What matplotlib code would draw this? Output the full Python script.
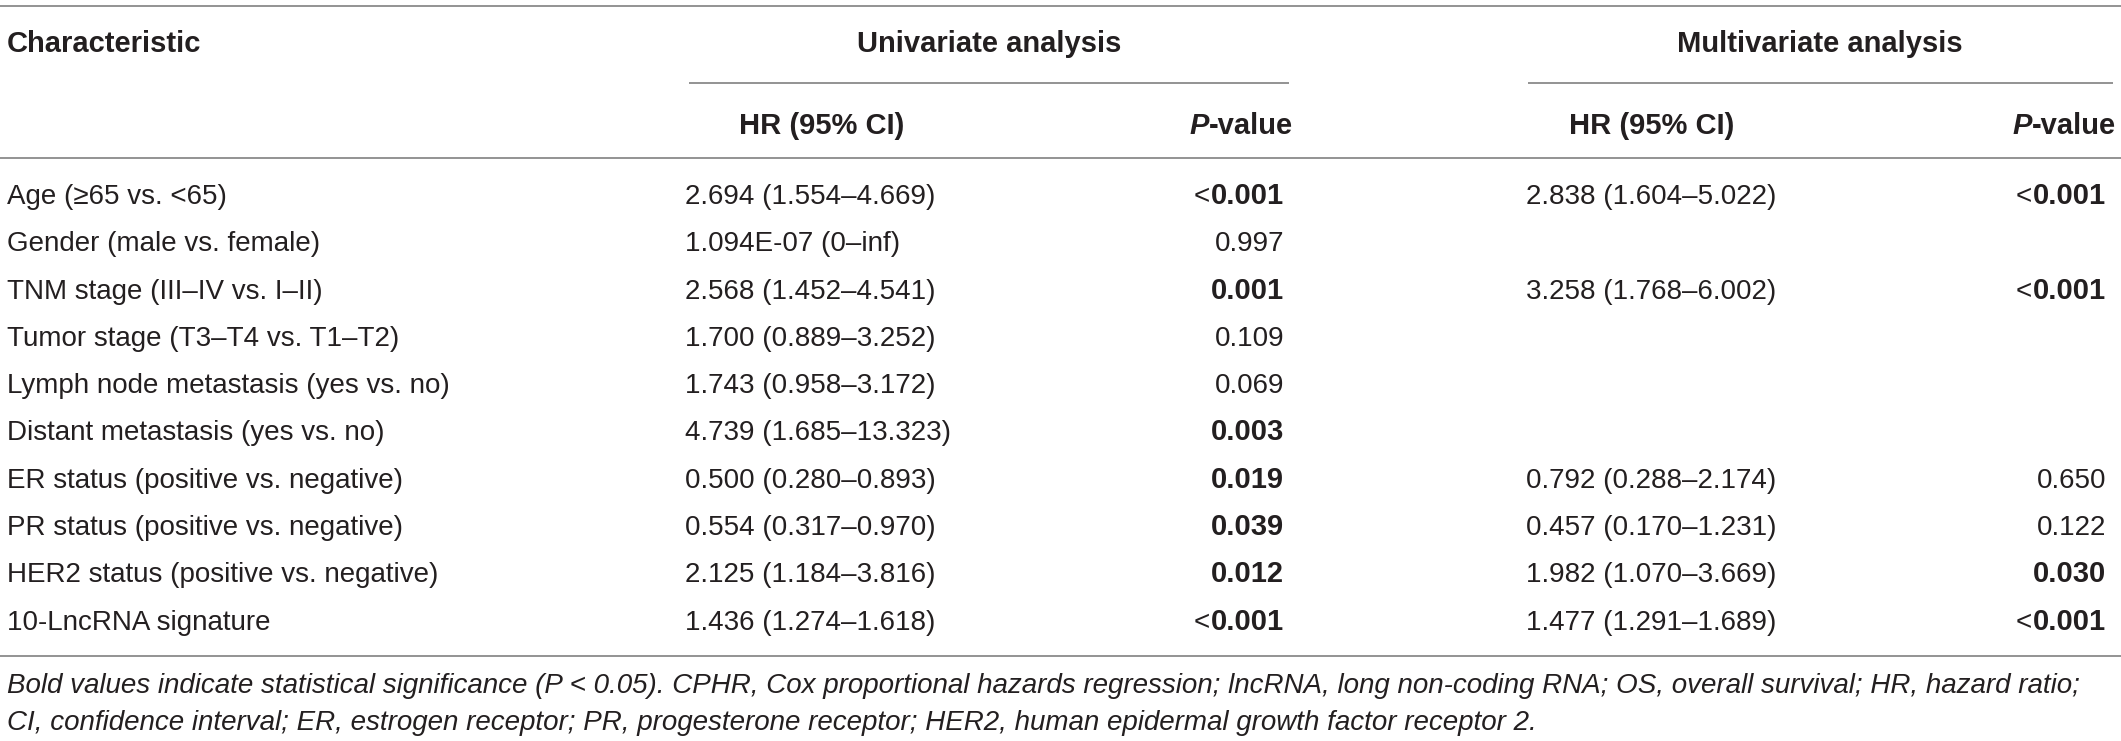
import matplotlib
matplotlib.use("Agg")
import matplotlib.pyplot as plt

# Datos de la tabla
characteristics = [
    "Age (\u226565 vs. <65)",
    "Gender (male vs. female)",
    "TNM stage (III\u2013IV vs. I\u2013II)",
    "Tumor stage (T3\u2013T4 vs. T1\u2013T2)",
    "Lymph node metastasis (yes vs. no)",
    "Distant metastasis (yes vs. no)",
    "ER status (positive vs. negative)",
    "PR status (positive vs. negative)",
    "HER2 status (positive vs. negative)",
    "10-LncRNA signature",
]
uni_hr = [
    "2.694 (1.554\u20134.669)",
    "1.094E-07 (0\u2013inf)",
    "2.568 (1.452\u20134.541)",
    "1.700 (0.889\u20133.252)",
    "1.743 (0.958\u20133.172)",
    "4.739 (1.685\u201313.323)",
    "0.500 (0.280\u20130.893)",
    "0.554 (0.317\u20130.970)",
    "2.125 (1.184\u20133.816)",
    "1.436 (1.274\u20131.618)",
]
uni_p = ["<0.001", "0.997", "0.001", "0.109", "0.069", "0.003", "0.019", "0.039", "0.012", "<0.001"]
multi_hr = [
    "2.838 (1.604\u20135.022)",
    "",
    "3.258 (1.768\u20136.002)",
    "",
    "",
    "",
    "0.792 (0.288\u20132.174)",
    "0.457 (0.170\u20131.231)",
    "1.982 (1.070\u20133.669)",
    "1.477 (1.291\u20131.689)",
]
multi_p = ["<0.001", "", "<0.001", "", "", "", "0.650", "0.122", "0.030", "<0.001"]
footnote = [
    "Bold values indicate statistical significance (P < 0.05). CPHR, Cox proportional hazards regression; "
    "lncRNA, long non-coding RNA; OS, overall survival; HR, hazard ratio;",
    "CI, confidence interval; ER, estrogen receptor; PR, progesterone receptor; "
    "HER2, human epidermal growth factor receptor 2.",
]

W, H = 2121, 741
txt = "#231f20"
linec = "#8a8a8a"
fs = 20          # texto normal
fsb = 21         # encabezados y valores en negrita
plt.rcParams["font.family"] = ["Liberation Sans", "DejaVu Sans"]

fig = plt.figure(figsize=(W / 100, H / 100), dpi=100)
ax = fig.add_axes([0, 0, 1, 1])
ax.set_xlim(0, W)
ax.set_ylim(H, 0)
ax.axis("off")
renderer = fig.canvas.get_renderer()


def is_sig(p):
    if p.startswith("<"):
        return True
    return p != "" and float(p) < 0.05


def hline(y, x0, x1):
    ax.plot([x0, x1], [y, y], color=linec, lw=1.3, solid_capstyle="butt")


def width_px(t):
    return t.get_window_extent(renderer).width


def pvalue(x_right, y, p):
    # el signo "<" va sin negrita, el número en negrita
    if p == "":
        return
    sig = is_sig(p)
    num = p.lstrip("<")
    t = ax.text(x_right, y, num, ha="right", va="baseline", fontsize=fsb if sig else fs,
                color=txt, fontweight="bold" if sig else "normal")
    if p.startswith("<"):
        w = width_px(t)
        ax.text(x_right - w - 1, y, "<", ha="right", va="baseline", fontsize=fs, color=txt)


def p_header(x_right, y):
    t = ax.text(x_right, y, "-value", ha="right", va="baseline", fontsize=fsb, color=txt,
                fontweight="bold")
    w = width_px(t)
    ax.text(x_right - w, y, "P", ha="right", va="baseline", fontsize=fsb, color=txt,
            fontweight="bold", fontstyle="italic")


cap = 10  # media altura de mayúsculas en px

# líneas
hline(5.5, 0, W)
hline(82.5, 689, 1289)
hline(82.5, 1528, 2113)
hline(158, 0, W)
hline(656, 0, W)

# encabezados
ax.text(7, 42 + cap, "Characteristic", ha="left", va="baseline", fontsize=fsb,
        fontweight="bold", color=txt)
ax.text(989, 42 + cap, "Univariate analysis", ha="center", va="baseline", fontsize=fsb,
        fontweight="bold", color=txt)
ax.text(1820, 42 + cap, "Multivariate analysis", ha="center", va="baseline", fontsize=fsb,
        fontweight="bold", color=txt)
ax.text(822, 124 + cap, "HR (95% CI)", ha="center", va="baseline", fontsize=fsb,
        fontweight="bold", color=txt)
ax.text(1652, 124 + cap, "HR (95% CI)", ha="center", va="baseline", fontsize=fsb,
        fontweight="bold", color=txt)
p_header(1293, 124 + cap)
p_header(2116, 124 + cap)

# filas
for i in range(len(characteristics)):
    y = 194 + 47.3 * i + cap
    ax.text(7, y, characteristics[i], ha="left", va="baseline", fontsize=fs, color=txt)
    ax.text(685, y, uni_hr[i], ha="left", va="baseline", fontsize=fs, color=txt)
    pvalue(1284, y, uni_p[i])
    if multi_hr[i]:
        ax.text(1526, y, multi_hr[i], ha="left", va="baseline", fontsize=fs, color=txt)
    pvalue(2106, y, multi_p[i])

# nota al pie
for j, line in enumerate(footnote):
    ax.text(7, 683 + 37 * j + cap, line, ha="left", va="baseline", fontsize=fs,
            fontstyle="italic", color=txt)

fig.savefig("out.png", dpi=100, facecolor="white")
